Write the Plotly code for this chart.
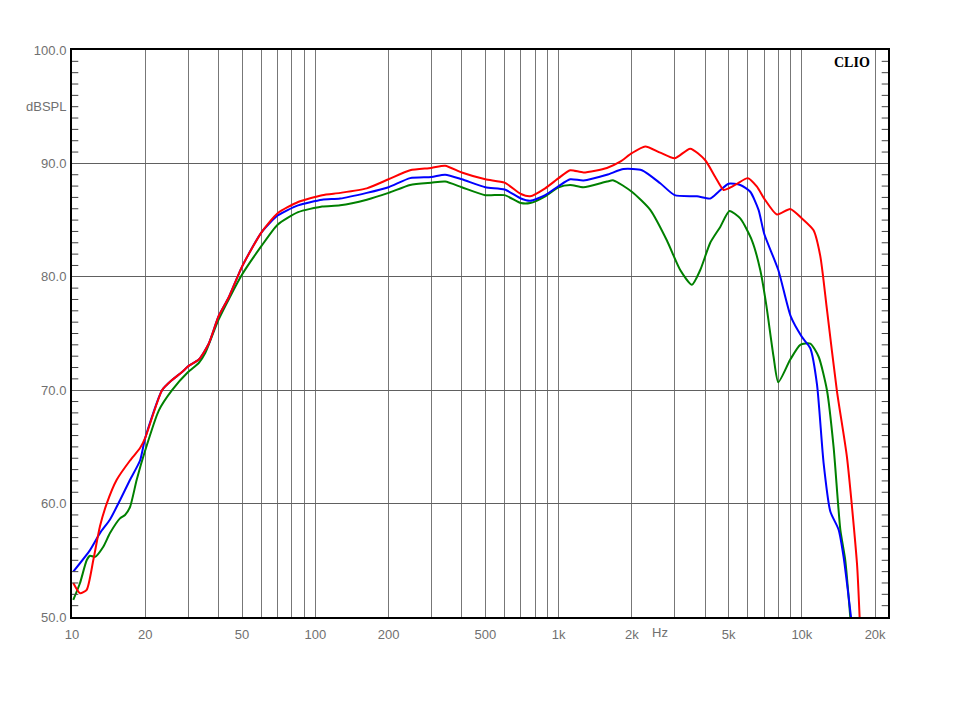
import math
import plotly.graph_objects as go

# ---- data ----
red_f = [10.12, 10.79, 11.49, 12.23, 13.03, 13.89, 15.27, 17.32, 19.04, 20, 23.45, 25.78, 28.33, 30, 33.19, 36.48, 40, 44.1, 50, 60, 70, 85,
         106.7, 126.5, 162.8, 200, 245.3, 300, 341.8, 400, 500, 600, 700, 764, 881, 1000, 1116, 1266, 1580, 1792, 2000,
         2270, 2617, 3000, 3477, 4000, 4405, 4766, 5000, 5409, 6000, 6536, 7000, 7902, 8960, 10000, 11170, 11910, 12680,
         13940, 15320, 16850, 17270]
red_db = [53.0, 52.1, 52.4, 55.0, 58.0, 60.0, 62.1, 63.8, 64.9, 65.8, 70.0, 70.9, 71.6, 72.1, 72.7, 74.1, 76.5, 78.2, 80.9, 83.9, 85.6, 86.6,
          87.2, 87.4, 87.8, 88.6, 89.4, 89.6, 89.8, 89.2, 88.6, 88.3, 87.3, 87.1, 87.8, 88.7, 89.4, 89.2, 89.6, 90.15, 90.9,
          91.5, 90.95, 90.45, 91.3, 90.3, 88.8, 87.65, 87.8, 88.2, 88.7, 87.95, 86.9, 85.5, 85.98, 85.15, 84.1, 81.8, 77.1,
          69.9, 64.1, 54.7, 50.0]

blue_f = [10.12, 11.86, 13.03, 14.33, 15.75, 17.32, 19.04, 20, 23.45, 25.78, 28.33, 30, 33.19, 36.48, 40, 44.1, 50, 60, 70, 85,
          106.7, 126.5, 162.8, 200, 245.3, 300, 341.8, 400, 500, 600, 700, 764, 881, 1000, 1116, 1266, 1580, 1849, 2200,
          2617, 3000, 3705, 4201, 4545, 5000, 5581, 6135, 6636, 7000, 8000, 9000, 10000, 10830, 11540, 12280, 13090,
          14160, 14840, 15920]
blue_db = [54.0, 55.9, 57.4, 58.6, 60.3, 62.1, 63.8, 65.8, 70.0, 70.9, 71.6, 72.1, 72.7, 74.1, 76.5, 78.2, 80.9, 83.9, 85.4, 86.3,
           86.8, 86.9, 87.4, 87.9, 88.7, 88.8, 89.0, 88.6, 87.9, 87.7, 86.9, 86.7, 87.2, 88.0, 88.6, 88.5, 89.0, 89.5, 89.4,
           88.25, 87.2, 87.1, 86.9, 87.5, 88.2, 88.1, 87.5, 85.9, 83.8, 80.6, 76.5, 74.7, 73.7, 70.5, 63.6, 59.3,
           57.7, 55.3, 50.0]

green_f = [10.12, 10.79, 11.49, 11.86, 12.43, 13.45, 14.33, 15.75, 16.52, 17.32, 18.45, 20, 22.73, 25.78, 30, 33.19, 35.33, 40, 50, 60, 70, 85,
           106.7, 126.5, 162.8, 200, 245.3, 300, 341.8, 400, 500, 600, 700, 764, 881, 1000, 1116, 1266, 1580, 1682, 2000,
           2381, 2788, 3162, 3533, 3822, 4201, 4618, 5040, 5581, 6236, 6744, 7120, 7650, 8000, 8960, 9850, 10830, 11720,
           12680, 13500, 14390, 15080, 15810]
green_db = [51.5, 53.0, 55.0, 55.4, 55.3, 56.2, 57.4, 58.7, 59.0, 59.7, 62.1, 64.7, 68.2, 70.0, 71.6, 72.4, 73.3, 76.2, 80.2, 82.7, 84.6, 85.7,
            86.2, 86.3, 86.8, 87.4, 88.1, 88.3, 88.4, 87.9, 87.2, 87.2, 86.5, 86.5, 87.1, 87.9, 88.1, 87.9, 88.4, 88.5, 87.5,
            85.9, 83.2, 80.6, 79.3, 80.6, 83.0, 84.4, 85.8, 85.15, 83.2, 80.6, 77.7, 72.95, 70.7, 72.7, 74.0, 74.1, 72.95,
            70.0, 65.0, 57.7, 55.0, 50.0]

grid_f = [20, 30, 40, 50, 60, 70, 80, 90, 100, 200, 300, 400, 500, 600, 700, 800, 900,
          1000, 2000, 3000, 4000, 5000, 6000, 7000, 8000, 9000, 10000, 20000]
label_map = {10: "10", 20: "20", 50: "50", 100: "100", 200: "200", 500: "500", 1000: "1k",
             2000: "2k", 5000: "5k", 10000: "10k", 20000: "20k"}
x_ticks = [10] + grid_f
x_text = [label_map.get(v, "") for v in x_ticks]
minor_db = [v for v in range(51, 100) if v % 10 != 0]   # 1 dB tick marks

X_RANGE_LOG = [1, 4.354]

fig = go.Figure()
for f, d, c in [(green_f, green_db, "#008000"), (blue_f, blue_db, "#0000ff"), (red_f, red_db, "#ff0000")]:
    fig.add_trace(go.Scatter(x=f, y=d, mode="lines", line=dict(color=c, width=2, shape="spline", smoothing=0.6),
                             showlegend=False, hoverinfo="skip", cliponaxis=True))
# 1 dB inward tick marks on the left and right frame edges
for edge in (10 ** X_RANGE_LOG[0], 10 ** X_RANGE_LOG[1]):
    fig.add_trace(go.Scatter(x=[edge] * len(minor_db), y=minor_db, mode="markers", cliponaxis=True,
                             marker=dict(symbol="line-ew", size=9, color="#444444",
                                         line=dict(width=1, color="#444444")),
                             showlegend=False, hoverinfo="skip"))

tick_font = dict(family="Liberation Sans, Arial, sans-serif", size=13, color="#707070")

fig.update_layout(
    width=960, height=720,
    margin=dict(l=64, r=80, t=42, b=111),
    paper_bgcolor="white", plot_bgcolor="white",
    xaxis=dict(type="log", range=X_RANGE_LOG, tickmode="array", tickvals=x_ticks, ticktext=x_text,
               showgrid=True, gridcolor="#777777", gridwidth=1, ticks="",
               showline=True, linecolor="black", linewidth=2, mirror=True,
               tickfont=tick_font, zeroline=False, ticklabelstandoff=4),
    yaxis=dict(range=[50, 100], tick0=50, dtick=10, tickformat=".1f",
               showgrid=True, gridcolor="#606060", gridwidth=1, ticks="",
               showline=True, linecolor="black", linewidth=2, mirror=True,
               tickfont=tick_font, zeroline=False, ticklabelstandoff=1),
)

fig.add_annotation(x=0, xref="paper", xanchor="right", xshift=-4, y=95, yref="y", yanchor="middle",
                   text="dBSPL", showarrow=False, font=tick_font)
fig.add_annotation(x=math.log10(2000), xref="x", y=0, yref="paper", yanchor="top", xanchor="left", xshift=18, yshift=-6,
                   text="Hz", showarrow=False, font=tick_font)
fig.add_annotation(x=1, xref="paper", xanchor="right", xshift=-16, y=1, yref="paper", yanchor="top", yshift=-3,
                   text="<b>CLIO</b>", showarrow=False,
                   font=dict(family="Liberation Serif, Times New Roman, serif", size=14, color="black"))

fig.write_html("out.html")
